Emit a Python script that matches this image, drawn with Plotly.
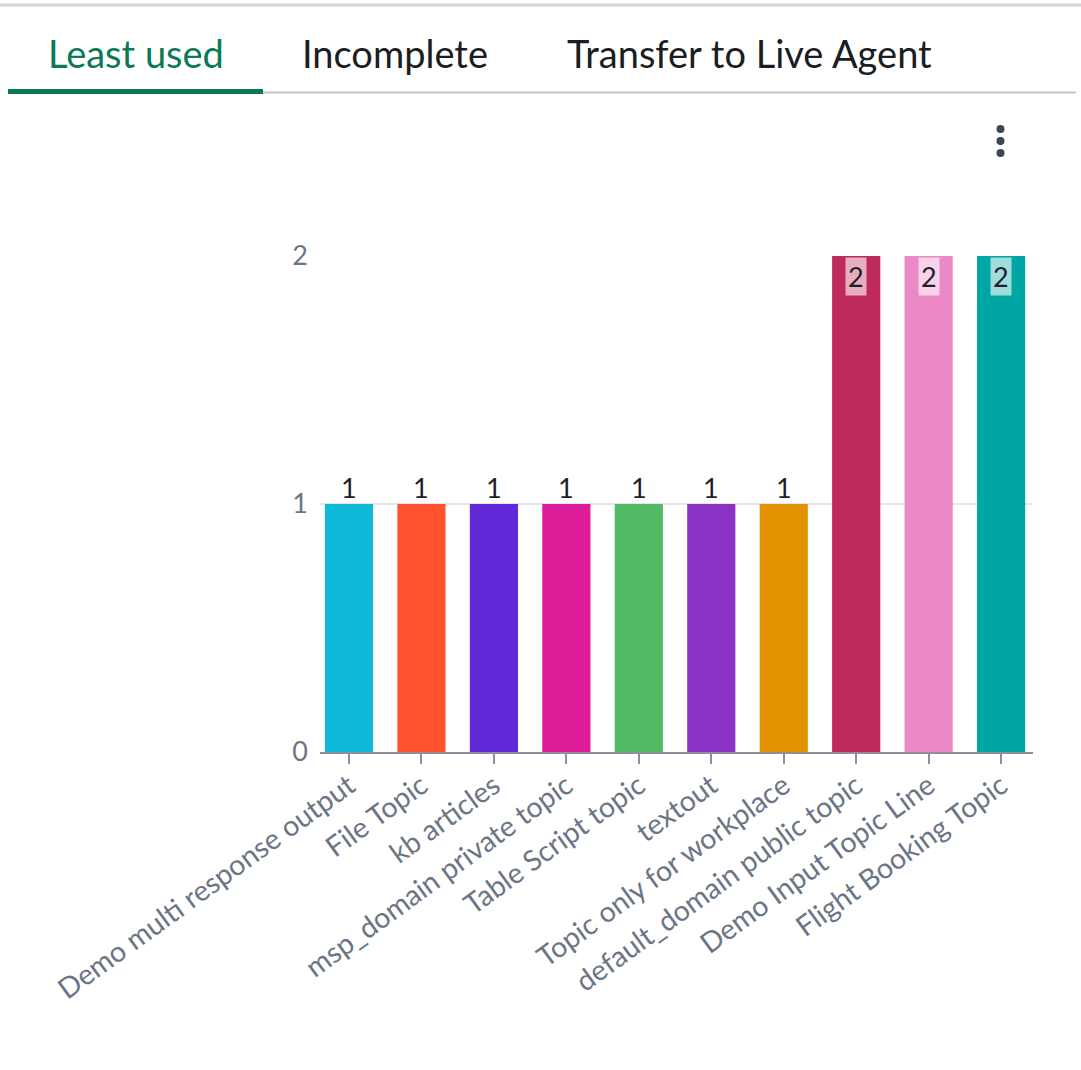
import plotly.graph_objects as go

W, H = 1081, 1070

# Topic usage counts
topics = [
    "Demo multi response output",
    "File Topic",
    "kb articles",
    "msp_domain private topic",
    "Table Script topic",
    "textout",
    "Topic only for workplace",
    "default_domain public topic",
    "Demo Input Topic Line",
    "Flight Booking Topic",
]
counts = [1, 1, 1, 1, 1, 1, 1, 2, 2, 2]
bar_colors = [
    "#0DB9D7", "#FF5330", "#6129D8", "#DC1C98", "#52BA65",
    "#8932C4", "#E29400", "#BE2A5B", "#EB88C6", "#00A6A4",
]
y_ticks = [0, 1, 2]
tabs = ["Least used", "Incomplete", "Transfer to Live Agent"]

FONT = "Lato"
AXIS_GREY = "#6B7585"


def px(x):
    return x / W


def py(y):
    return 1 - y / H


fig = go.Figure()
fig.add_trace(go.Bar(
    x=topics,
    y=counts,
    marker=dict(color=bar_colors, line=dict(width=0)),
    hoverinfo="x+y",
))

y_max = max(counts)
annotations = []
for t, v in zip(topics, counts):
    if v >= y_max:
        # label sits inside the bar top on a translucent chip
        annotations.append(dict(
            x=t, y=v, xref="x", yref="y", text=str(v), showarrow=False,
            yanchor="top", yshift=-1, font=dict(family=FONT, size=27, color="#1E2128"),
            bgcolor="rgba(255,255,255,0.62)", borderpad=2,
        ))
    else:
        annotations.append(dict(
            x=t, y=v, xref="x", yref="y", text=str(v), showarrow=False,
            yanchor="bottom", yshift=-2, font=dict(family=FONT, size=27, color="#1E2128"),
        ))

# tab headers
tab_x = [136, 395, 749]
tab_colors = ["#0A7A54", "#1B1D22", "#1B1D22"]
for label, x, c in zip(tabs, tab_x, tab_colors):
    annotations.append(dict(
        x=px(x), y=py(53), xref="paper", yref="paper", text=label,
        showarrow=False, xanchor="center", yanchor="middle",
        font=dict(family=FONT, size=38, color=c),
    ))

shapes = [
    # top rule
    dict(type="line", xref="paper", yref="paper", x0=0, x1=1, y0=py(5), y1=py(5),
         line=dict(color="#D3D4D9", width=3)),
    # tab bar base rule
    dict(type="line", xref="paper", yref="paper", x0=px(8), x1=px(1076), y0=py(92.5), y1=py(92.5),
         line=dict(color="#C3C5CB", width=2)),
    # active tab underline
    dict(type="line", xref="paper", yref="paper", x0=px(8), x1=px(263), y0=py(91.5), y1=py(91.5),
         line=dict(color="#0A7A54", width=5)),
]
# overflow menu dots
for yc in (129, 141, 153):
    shapes.append(dict(
        type="circle", xref="paper", yref="paper",
        x0=px(996.5), x1=px(1004.5), y0=py(yc - 4), y1=py(yc + 4),
        fillcolor="#3B4556", line=dict(width=0),
    ))

fig.update_layout(
    width=W, height=H,
    margin=dict(l=0, r=0, t=0, b=0),
    paper_bgcolor="white",
    plot_bgcolor="white",
    showlegend=False,
    bargap=0.335,
    font=dict(family=FONT, color=AXIS_GREY),
    annotations=annotations,
    shapes=shapes,
    xaxis=dict(
        domain=[px(320), px(1033)],
        range=[-0.4, 9.44],
        tickangle=-36,
        tickfont=dict(family=FONT, size=28.5, color=AXIS_GREY),
        showline=True, linecolor="#8A929E", linewidth=2,
        ticks="outside", ticklen=10, tickwidth=2, tickcolor="#8A929E",
        ticklabelstandoff=-6,
        showgrid=False, automargin=False, fixedrange=True,
    ),
    yaxis=dict(
        domain=[py(752), py(256)],
        range=[0, 2],
        tickvals=y_ticks,
        tickfont=dict(family=FONT, size=27, color=AXIS_GREY),
        showgrid=True, gridcolor="#E6E6E8", gridwidth=2,
        zeroline=False, showline=False, ticks="",
        ticklabelstandoff=11,
        automargin=False, fixedrange=True,
    ),
)

fig.write_html("out.html", config={"displayModeBar": False})
